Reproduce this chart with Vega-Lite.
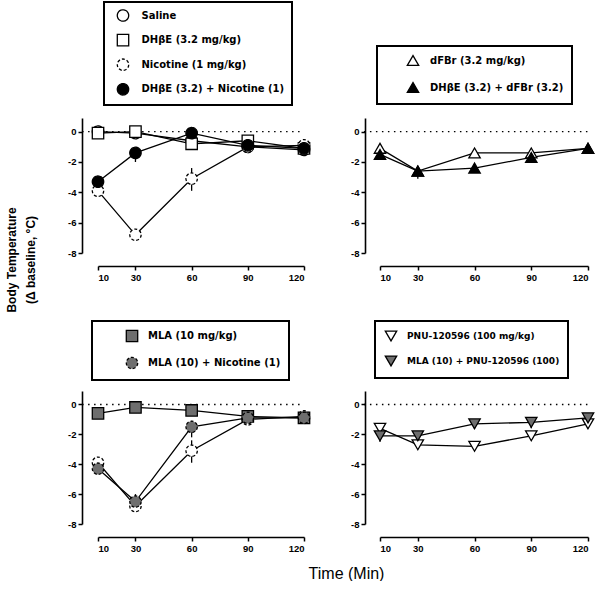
{
  "$schema": "https://vega.github.io/schema/vega-lite/v6.json",
  "padding": {"left": 5, "top": 1, "right": 0, "bottom": 0},
  "config": {
    "view": {"stroke": null},
    "axis": {"domainColor": "black", "domainWidth": 1.6, "tickColor": "black", "tickWidth": 1.5, "tickSize": 4, "labelFont": "Liberation Sans", "labelFontWeight": "bold", "labelFontSize": 9.5, "labelColor": "black", "grid": false, "labelPadding": 2},
    "legend": {"strokeWidth": 2}
  },
  "datasets": {
    "tl": [
      {"series": "Saline", "time": 10, "mean": 0.0, "lo": 0.0, "hi": 0.0},
      {"series": "Saline", "time": 30, "mean": -0.1, "lo": -0.1, "hi": -0.1},
      {"series": "Saline", "time": 60, "mean": -0.6, "lo": -0.6, "hi": -0.6},
      {"series": "Saline", "time": 90, "mean": -1.0, "lo": -1.0, "hi": -1.0},
      {"series": "Saline", "time": 120, "mean": -1.2, "lo": -1.2, "hi": -1.2},
      {"series": "DHβE (3.2 mg/kg)", "time": 10, "mean": -0.1, "lo": -0.1, "hi": -0.1},
      {"series": "DHβE (3.2 mg/kg)", "time": 30, "mean": 0.0, "lo": 0.0, "hi": 0.0},
      {"series": "DHβE (3.2 mg/kg)", "time": 60, "mean": -0.8, "lo": -0.8, "hi": -0.8},
      {"series": "DHβE (3.2 mg/kg)", "time": 90, "mean": -0.6, "lo": -0.6, "hi": -0.6},
      {"series": "DHβE (3.2 mg/kg)", "time": 120, "mean": -1.1, "lo": -1.1, "hi": -1.1},
      {"series": "Nicotine (1 mg/kg)", "time": 10, "mean": -3.9, "lo": -3.9, "hi": -3.9},
      {"series": "Nicotine (1 mg/kg)", "time": 30, "mean": -6.8, "lo": -6.8, "hi": -6.8},
      {"series": "Nicotine (1 mg/kg)", "time": 60, "mean": -3.1, "lo": -3.9, "hi": -2.4},
      {"series": "Nicotine (1 mg/kg)", "time": 90, "mean": -1.0, "lo": -1.0, "hi": -1.0},
      {"series": "Nicotine (1 mg/kg)", "time": 120, "mean": -0.9, "lo": -0.9, "hi": -0.9},
      {"series": "DHβE (3.2) + Nicotine (1)", "time": 10, "mean": -3.3, "lo": -3.3, "hi": -3.3},
      {"series": "DHβE (3.2) + Nicotine (1)", "time": 30, "mean": -1.4, "lo": -2.0, "hi": -1.4},
      {"series": "DHβE (3.2) + Nicotine (1)", "time": 60, "mean": -0.1, "lo": -0.1, "hi": -0.1},
      {"series": "DHβE (3.2) + Nicotine (1)", "time": 90, "mean": -0.9, "lo": -0.9, "hi": -0.9},
      {"series": "DHβE (3.2) + Nicotine (1)", "time": 120, "mean": -1.1, "lo": -1.1, "hi": -1.1}
    ],
    "tr": [
      {"series": "dFBr (3.2 mg/kg)", "time": 10, "mean": -1.1, "lo": -1.4, "hi": -0.9},
      {"series": "dFBr (3.2 mg/kg)", "time": 30, "mean": -2.6, "lo": -3.1, "hi": -2.3},
      {"series": "dFBr (3.2 mg/kg)", "time": 60, "mean": -1.4, "lo": -1.4, "hi": -1.4},
      {"series": "dFBr (3.2 mg/kg)", "time": 90, "mean": -1.4, "lo": -1.4, "hi": -1.4},
      {"series": "dFBr (3.2 mg/kg)", "time": 120, "mean": -1.1, "lo": -1.1, "hi": -1.1},
      {"series": "DHβE (3.2) + dFBr (3.2)", "time": 10, "mean": -1.5, "lo": -1.5, "hi": -1.5},
      {"series": "DHβE (3.2) + dFBr (3.2)", "time": 30, "mean": -2.6, "lo": -2.6, "hi": -2.6},
      {"series": "DHβE (3.2) + dFBr (3.2)", "time": 60, "mean": -2.4, "lo": -2.4, "hi": -2.4},
      {"series": "DHβE (3.2) + dFBr (3.2)", "time": 90, "mean": -1.7, "lo": -1.7, "hi": -1.7},
      {"series": "DHβE (3.2) + dFBr (3.2)", "time": 120, "mean": -1.1, "lo": -1.1, "hi": -1.1}
    ],
    "bl": [
      {"series": "Nicotine (1 mg/kg)", "time": 10, "mean": -3.9, "lo": -3.9, "hi": -3.9},
      {"series": "Nicotine (1 mg/kg)", "time": 30, "mean": -6.8, "lo": -6.8, "hi": -6.8},
      {"series": "Nicotine (1 mg/kg)", "time": 60, "mean": -3.1, "lo": -3.9, "hi": -2.4},
      {"series": "Nicotine (1 mg/kg)", "time": 90, "mean": -1.0, "lo": -1.0, "hi": -1.0},
      {"series": "Nicotine (1 mg/kg)", "time": 120, "mean": -0.8, "lo": -0.8, "hi": -0.8},
      {"series": "MLA (10 mg/kg)", "time": 10, "mean": -0.6, "lo": -0.6, "hi": -0.6},
      {"series": "MLA (10 mg/kg)", "time": 30, "mean": -0.2, "lo": -0.2, "hi": -0.2},
      {"series": "MLA (10 mg/kg)", "time": 60, "mean": -0.4, "lo": -0.4, "hi": -0.4},
      {"series": "MLA (10 mg/kg)", "time": 90, "mean": -0.8, "lo": -0.8, "hi": -0.8},
      {"series": "MLA (10 mg/kg)", "time": 120, "mean": -0.9, "lo": -0.9, "hi": -0.9},
      {"series": "MLA (10) + Nicotine (1)", "time": 10, "mean": -4.3, "lo": -4.3, "hi": -4.3},
      {"series": "MLA (10) + Nicotine (1)", "time": 30, "mean": -6.5, "lo": -6.9, "hi": -6.0},
      {"series": "MLA (10) + Nicotine (1)", "time": 60, "mean": -1.5, "lo": -2.2, "hi": -1.1},
      {"series": "MLA (10) + Nicotine (1)", "time": 90, "mean": -0.9, "lo": -0.9, "hi": -0.9},
      {"series": "MLA (10) + Nicotine (1)", "time": 120, "mean": -0.9, "lo": -0.9, "hi": -0.9}
    ],
    "br": [
      {"series": "PNU-120596 (100 mg/kg)", "time": 10, "mean": -1.6, "lo": -1.6, "hi": -1.6},
      {"series": "PNU-120596 (100 mg/kg)", "time": 30, "mean": -2.7, "lo": -2.9, "hi": -2.7},
      {"series": "PNU-120596 (100 mg/kg)", "time": 60, "mean": -2.8, "lo": -3.0, "hi": -2.8},
      {"series": "PNU-120596 (100 mg/kg)", "time": 90, "mean": -2.1, "lo": -2.4, "hi": -2.1},
      {"series": "PNU-120596 (100 mg/kg)", "time": 120, "mean": -1.3, "lo": -1.6, "hi": -1.3},
      {"series": "MLA (10) + PNU-120596 (100)", "time": 10, "mean": -2.1, "lo": -2.5, "hi": -2.1},
      {"series": "MLA (10) + PNU-120596 (100)", "time": 30, "mean": -2.1, "lo": -2.1, "hi": -2.1},
      {"series": "MLA (10) + PNU-120596 (100)", "time": 60, "mean": -1.3, "lo": -1.6, "hi": -1.3},
      {"series": "MLA (10) + PNU-120596 (100)", "time": 90, "mean": -1.2, "lo": -1.6, "hi": -1.2},
      {"series": "MLA (10) + PNU-120596 (100)", "time": 120, "mean": -0.9, "lo": -0.9, "hi": -0.9}
    ],
    "zero": [{"time": 1.5, "t2": 120, "mean": 0}]
  },
  "title": {"text": ["Body Temperature", "(Δ baseline, °C)"], "orient": "left", "anchor": "middle", "font": "Liberation Sans", "fontSize": 12, "fontWeight": "bold", "color": "black", "offset": 30, "lineHeight": 19, "dx": 31},
  "columns": 2,
  "spacing": {"row": 138, "column": 76},
  "bounds": "flush",
  "resolve": {"scale": {"fill": "independent", "shape": "independent", "strokeDash": "independent"}, "legend": {"fill": "independent", "shape": "independent", "strokeDash": "independent"}},
  "concat": [
    {
      "width": 206, "height": 135,
      "encoding": {
        "x": {"field": "time", "type": "quantitative", "scale": {"domain": [10, 120], "nice": false, "zero": false}, "axis": {"values": [10, 30, 60, 90, 120], "title": null, "offset": 13}},
        "y": {"field": "mean", "type": "quantitative", "scale": {"domain": [-8, 0.9], "nice": false, "zero": false}, "axis": {"values": [-8, -6, -4, -2, 0], "title": null, "offset": 16, "labelExpr": "datum.value == 0 ? '0' : '-' + abs(datum.value)"}}
      },
      "layer": [
        {"data": {"name": "zero"}, "mark": {"type": "rule", "color": "black", "strokeDash": [1.5, 4.5], "strokeWidth": 1.4}, "encoding": {"x2": {"field": "t2"}}},
        {"data": {"name": "tl"}, "mark": {"type": "line", "color": "black", "strokeWidth": 1.3}, "encoding": {"detail": {"field": "series"}}},
        {"data": {"name": "tl"}, "mark": {"type": "rule", "color": "black", "strokeWidth": 1.3}, "encoding": {"y": {"field": "lo", "type": "quantitative", "scale": {"domain": [-8, 0.9], "nice": false, "zero": false}, "axis": {"values": [-8, -6, -4, -2, 0], "title": null, "offset": 16, "labelExpr": "datum.value == 0 ? '0' : '-' + abs(datum.value)"}}, "y2": {"field": "hi"}}},
        {"data": {"name": "tl"}, "mark": {"type": "point", "opacity": 1, "stroke": "black", "strokeWidth": 1.3, "size": 130},
         "encoding": {
           "fill": {"field": "series", "type": "nominal", "scale": {"domain": ["Saline", "DHβE (3.2 mg/kg)", "Nicotine (1 mg/kg)", "DHβE (3.2) + Nicotine (1)"], "range": ["white", "white", "white", "black"]},
             "legend": {"orient": "none", "legendX": 6, "legendY": -116, "title": null, "strokeColor": "black", "padding": 7, "rowPadding": 7.6, "symbolOffset": 5.5, "labelOffset": 12, "labelExpr": "datum.label + '  '", "symbolStrokeColor": "black", "symbolStrokeWidth": 1.3, "symbolSize": 130, "labelFont": "DejaVu Sans", "labelFontWeight": "bold", "labelFontSize": 10, "labelColor": "black", "labelLimit": 400}},
           "shape": {"field": "series", "type": "nominal", "scale": {"domain": ["Saline", "DHβE (3.2 mg/kg)", "Nicotine (1 mg/kg)", "DHβE (3.2) + Nicotine (1)"], "range": ["circle", "square", "circle", "circle"]}},
           "strokeDash": {"field": "series", "type": "nominal", "scale": {"domain": ["Saline", "DHβE (3.2 mg/kg)", "Nicotine (1 mg/kg)", "DHβE (3.2) + Nicotine (1)"], "range": [[1, 0], [1, 0], [3, 2], [1, 0]]}}
         }}
      ]
    },
    {
      "width": 208, "height": 135,
      "encoding": {
        "x": {"field": "time", "type": "quantitative", "scale": {"domain": [10, 120], "nice": false, "zero": false}, "axis": {"values": [10, 30, 60, 90, 120], "title": null, "offset": 13}},
        "y": {"field": "mean", "type": "quantitative", "scale": {"domain": [-8, 0.9], "nice": false, "zero": false}, "axis": {"values": [-8, -6, -4, -2, 0], "title": null, "offset": 15, "labelExpr": "datum.value == 0 ? '0' : '-' + abs(datum.value)"}}
      },
      "layer": [
        {"data": {"name": "zero"}, "mark": {"type": "rule", "color": "black", "strokeDash": [1.5, 4.5], "strokeWidth": 1.4}, "encoding": {"x2": {"field": "t2"}}},
        {"data": {"name": "tr"}, "mark": {"type": "line", "color": "black", "strokeWidth": 1.3}, "encoding": {"detail": {"field": "series"}}},
        {"data": {"name": "tr"}, "mark": {"type": "rule", "color": "black", "strokeWidth": 1.3}, "encoding": {"y": {"field": "lo", "type": "quantitative", "scale": {"domain": [-8, 0.9], "nice": false, "zero": false}, "axis": {"values": [-8, -6, -4, -2, 0], "title": null, "offset": 15, "labelExpr": "datum.value == 0 ? '0' : '-' + abs(datum.value)"}}, "y2": {"field": "hi"}}},
        {"data": {"name": "tr"}, "mark": {"type": "point", "opacity": 1, "stroke": "black", "strokeWidth": 1.3, "size": 130},
         "encoding": {
           "fill": {"field": "series", "type": "nominal", "scale": {"domain": ["dFBr (3.2 mg/kg)", "DHβE (3.2) + dFBr (3.2)"], "range": ["white", "black"]},
             "legend": {"orient": "none", "legendX": -3, "legendY": -72, "title": null, "strokeColor": "black", "padding": 8, "rowPadding": 10, "symbolOffset": 21.5, "labelOffset": 10.5, "labelExpr": "datum.label + '      '", "symbolStrokeColor": "black", "symbolStrokeWidth": 1.3, "symbolSize": 130, "labelFont": "DejaVu Sans", "labelFontWeight": "bold", "labelFontSize": 10, "labelColor": "black", "labelLimit": 400}},
           "shape": {"field": "series", "type": "nominal", "scale": {"domain": ["dFBr (3.2 mg/kg)", "DHβE (3.2) + dFBr (3.2)"], "range": ["triangle-up", "triangle-up"]}}
         }}
      ]
    },
    {
      "width": 206, "height": 133,
      "encoding": {
        "x": {"field": "time", "type": "quantitative", "scale": {"domain": [10, 120], "nice": false, "zero": false}, "axis": {"values": [10, 30, 60, 90, 120], "title": "Time (Min)", "titleFont": "Liberation Sans", "titleFontSize": 16, "titleFontWeight": "normal", "titleColor": "black", "titleX": 248, "titleY": 28, "titleAlign": "center", "offset": 13}},
        "y": {"field": "mean", "type": "quantitative", "scale": {"domain": [-8, 0.9], "nice": false, "zero": false}, "axis": {"values": [-8, -6, -4, -2, 0], "title": null, "offset": 16, "labelExpr": "datum.value == 0 ? '0' : '-' + abs(datum.value)"}}
      },
      "layer": [
        {"data": {"name": "zero"}, "mark": {"type": "rule", "color": "black", "strokeDash": [1.5, 4.5], "strokeWidth": 1.4}, "encoding": {"x2": {"field": "t2"}}},
        {"data": {"name": "bl"}, "mark": {"type": "line", "color": "black", "strokeWidth": 1.3}, "encoding": {"detail": {"field": "series"}}},
        {"data": {"name": "bl"}, "mark": {"type": "rule", "color": "black", "strokeWidth": 1.3}, "encoding": {"y": {"field": "lo", "type": "quantitative", "scale": {"domain": [-8, 0.9], "nice": false, "zero": false}, "axis": {"values": [-8, -6, -4, -2, 0], "title": null, "offset": 16, "labelExpr": "datum.value == 0 ? '0' : '-' + abs(datum.value)"}}, "y2": {"field": "hi"}}},
        {"data": {"name": "bl"}, "transform": [{"filter": "datum.series == 'Nicotine (1 mg/kg)'"}], "mark": {"type": "point", "opacity": 1, "stroke": "black", "strokeWidth": 1.3, "size": 130, "shape": "circle", "fill": "white", "strokeDash": [3, 2]}, "encoding": {}},
        {"data": {"name": "bl"}, "transform": [{"filter": "datum.series != 'Nicotine (1 mg/kg)'"}], "mark": {"type": "point", "opacity": 1, "stroke": "black", "strokeWidth": 1.3, "size": 130},
         "encoding": {
           "fill": {"field": "series", "type": "nominal", "scale": {"domain": ["MLA (10 mg/kg)", "MLA (10) + Nicotine (1)"], "range": ["#6e6e6e", "#6e6e6e"]},
             "legend": {"orient": "none", "legendX": -6, "legendY": -70, "title": null, "strokeColor": "black", "padding": 8.5, "rowPadding": 10, "symbolOffset": 25, "labelOffset": 9.5, "labelExpr": "datum.label + '       '", "symbolStrokeColor": "black", "symbolStrokeWidth": 1.3, "symbolSize": 130, "labelFont": "DejaVu Sans", "labelFontWeight": "bold", "labelFontSize": 10, "labelColor": "black", "labelLimit": 400}},
           "shape": {"field": "series", "type": "nominal", "scale": {"domain": ["MLA (10 mg/kg)", "MLA (10) + Nicotine (1)"], "range": ["square", "circle"]}},
           "strokeDash": {"field": "series", "type": "nominal", "scale": {"domain": ["MLA (10 mg/kg)", "MLA (10) + Nicotine (1)"], "range": [[1, 0], [3, 2]]}}
         }}
      ]
    },
    {
      "width": 208, "height": 133,
      "encoding": {
        "x": {"field": "time", "type": "quantitative", "scale": {"domain": [10, 120], "nice": false, "zero": false}, "axis": {"values": [10, 30, 60, 90, 120], "title": null, "offset": 13}},
        "y": {"field": "mean", "type": "quantitative", "scale": {"domain": [-8, 0.9], "nice": false, "zero": false}, "axis": {"values": [-8, -6, -4, -2, 0], "title": null, "offset": 15, "labelExpr": "datum.value == 0 ? '0' : '-' + abs(datum.value)"}}
      },
      "layer": [
        {"data": {"name": "zero"}, "mark": {"type": "rule", "color": "black", "strokeDash": [1.5, 4.5], "strokeWidth": 1.4}, "encoding": {"x2": {"field": "t2"}}},
        {"data": {"name": "br"}, "mark": {"type": "line", "color": "black", "strokeWidth": 1.3}, "encoding": {"detail": {"field": "series"}}},
        {"data": {"name": "br"}, "mark": {"type": "rule", "color": "black", "strokeWidth": 1.3}, "encoding": {"y": {"field": "lo", "type": "quantitative", "scale": {"domain": [-8, 0.9], "nice": false, "zero": false}, "axis": {"values": [-8, -6, -4, -2, 0], "title": null, "offset": 15, "labelExpr": "datum.value == 0 ? '0' : '-' + abs(datum.value)"}}, "y2": {"field": "hi"}}},
        {"data": {"name": "br"}, "mark": {"type": "point", "opacity": 1, "stroke": "black", "strokeWidth": 1.3, "size": 130},
         "encoding": {
           "fill": {"field": "series", "type": "nominal", "scale": {"domain": ["PNU-120596 (100 mg/kg)", "MLA (10) + PNU-120596 (100)"], "range": ["white", "#6e6e6e"]},
             "legend": {"orient": "none", "legendX": -5, "legendY": -70, "title": null, "strokeColor": "black", "padding": 8.5, "rowPadding": 8, "symbolOffset": 1, "labelOffset": 9.5, "labelExpr": "datum.label + '    '", "symbolStrokeColor": "black", "symbolStrokeWidth": 1.3, "symbolSize": 130, "labelFont": "DejaVu Sans", "labelFontWeight": "bold", "labelFontSize": 9, "labelColor": "black", "labelLimit": 400}},
           "shape": {"field": "series", "type": "nominal", "scale": {"domain": ["PNU-120596 (100 mg/kg)", "MLA (10) + PNU-120596 (100)"], "range": ["triangle-down", "triangle-down"]}}
         }}
      ]
    }
  ]
}
